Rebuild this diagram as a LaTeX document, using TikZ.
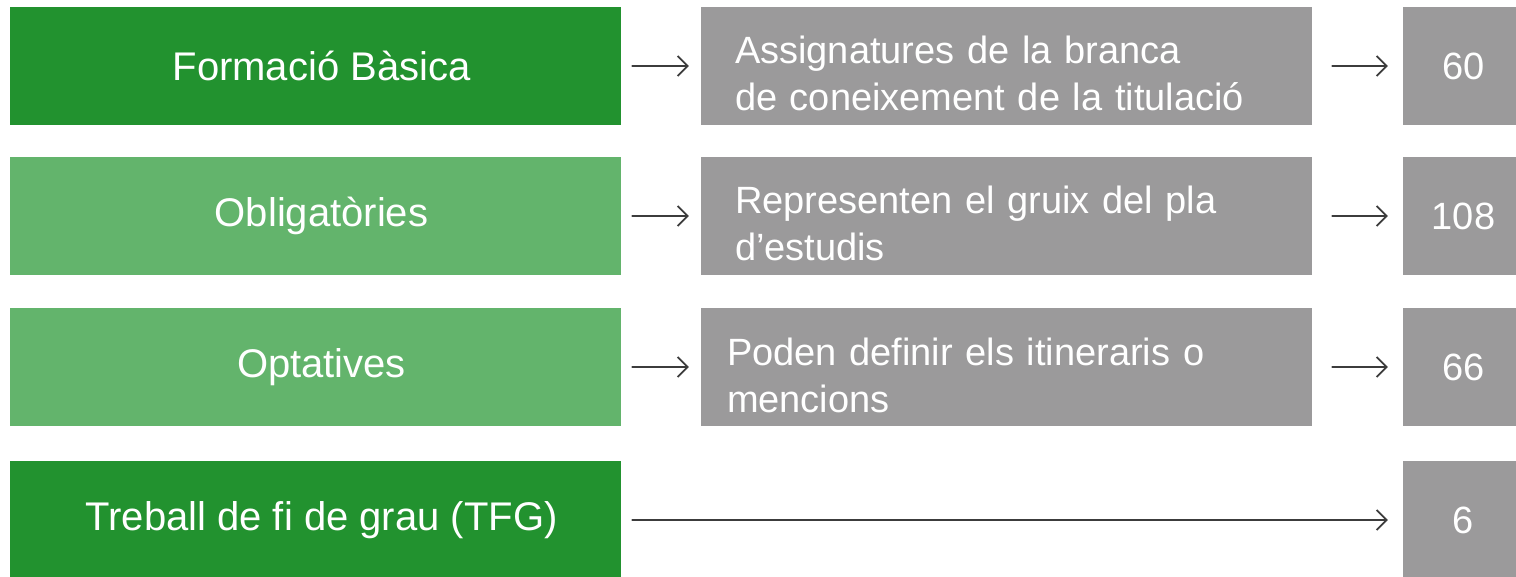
\documentclass[tikz,border=0pt]{standalone}
\usepackage{fontspec}
\setmainfont{Liberation Sans}
\usetikzlibrary{arrows.meta}
\definecolor{verdfosc}{RGB}{34,146,47}
\definecolor{verdclar}{RGB}{99,180,108}
\definecolor{gris}{RGB}{155,154,155}
\definecolor{grisfosc}{RGB}{60,60,60}
\newcommand{\puntal}[1]{\rule{0pt}{#1}}
\begin{document}
\begin{tikzpicture}[x=1pt, y=-1pt, font=\fontsize{38}{47}\selectfont, line join=round, line cap=round, >={Straight Barb[length=10pt,width=20pt]},
	tipus/.style={fill=#1, text=white, minimum width=611pt, minimum height=118pt, inner sep=0pt, font=\fontsize{40}{48}\selectfont},
	descr/.style={fill=gris, text=white, text width=543pt, minimum height=118pt, align=left, inner xsep=34pt, inner ysep=0pt},
	credits/.style={fill=gris, text=white, minimum width=121pt, minimum height=118pt, inner sep=0pt},
	fletxa/.style={draw=grisfosc, line width=1.8pt, ->}]
		\useasboundingbox (0,0) rectangle (1516,577);
		\def \xa{315.5} \def \xb{1006.5} \def \xc{1463.5}
		% tipus d'assignatura
		\node[tipus=verdfosc] (t1) at (\xa,66) {\hspace*{12pt}Formació Bàsica};
		\node[tipus=verdclar] (t2) at (\xa,216) {\hspace*{12pt}Obligatòries};
		\node[tipus=verdclar] (t3) at (\xa,367) {\hspace*{12pt}Optatives};
		\node[tipus=verdfosc] (t4) at (\xa,520) {\hspace*{12pt}Treball de fi de grau (TFG)};
		% descripcio
		\node[descr] (d1) at (\xb,66) {\puntal{43pt}Assignatures de la branca\\de coneixement de la titulació};
		\node[descr] (d2) at (\xb,216) {\puntal{43pt}Representen el gruix del pla\\d’estudis};
		\node[descr, text width=559pt, inner xsep=26pt] (d3) at (\xb,367) {\puntal{44pt}Poden definir els itineraris o\\mencions};
		% credits
		\node[credits] (c1) at (\xc,66) {60};
		\node[credits] (c2) at (\xc,216) {108};
		\node[credits] (c3) at (\xc,367) {66};
		\node[credits] (c4) at (\xc,520) {6};
		\foreach \i in {1,2,3}{
		\draw[fletxa, shorten <=11pt, shorten >=12pt] (t\i) -- (d\i);
		\draw[fletxa, shorten <=20pt, shorten >=15pt] (d\i) -- (c\i);}
		\draw[fletxa, shorten <=11pt, shorten >=15pt] (t4) -- (c4);
\end{tikzpicture}
\end{document}
